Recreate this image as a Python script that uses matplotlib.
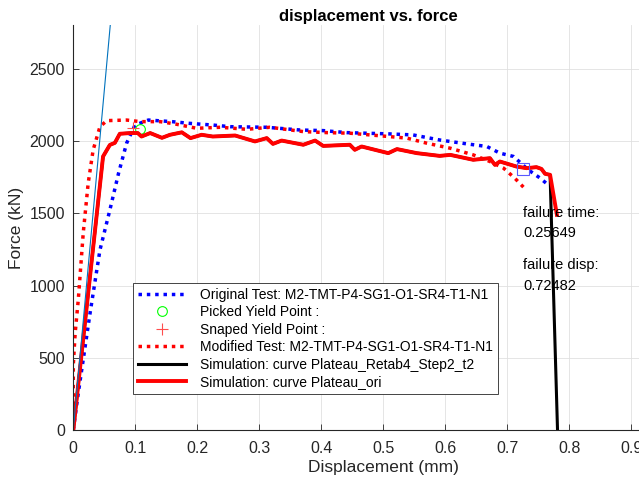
import numpy as np
import matplotlib
matplotlib.use('Agg')
import matplotlib.pyplot as plt

plt.rcParams['font.family'] = ['Liberation Sans', 'DejaVu Sans']

# Original test (blue dotted)
orig_disp = [0, 0.008, 0.027, 0.043, 0.059, 0.073, 0.086, 0.0995, 0.121, 0.159, 0.188,
             0.226, 0.253, 0.312, 0.366, 0.403, 0.441, 0.511, 0.548, 0.591, 0.635,
             0.667, 0.688, 0.710, 0.734, 0.753, 0.766]
orig_force = [0, 254, 808, 1246, 1523, 1777, 1985, 2110, 2145, 2134, 2122,
              2110, 2099, 2095, 2076, 2072, 2058, 2049, 2042, 2007, 1980,
              1962, 1916, 1893, 1800, 1743, 1696]

# Modified test (red dotted)
mod_disp = [0, 0, 0.003, 0.008, 0.016, 0.024, 0.032, 0.043, 0.054, 0.086, 0.108, 0.140,
            0.164, 0.199, 0.237, 0.280, 0.317, 0.371, 0.409, 0.446, 0.495, 0.538,
            0.570, 0.608, 0.645, 0.672, 0.694, 0.712, 0.726]
mod_force = [0, 450, 671, 900, 1362, 1708, 1938, 2099, 2141, 2145, 2134, 2134,
             2118, 2088, 2095, 2081, 2095, 2065, 2058, 2054, 2036, 2020,
             1985, 1950, 1904, 1858, 1812, 1743, 1681]

# Simulation curve Plateau_ori (red solid)
ori_disp = [0, 0.048, 0.059, 0.067, 0.075, 0.092, 0.104, 0.110, 0.124, 0.143, 0.156,
            0.175, 0.189, 0.207, 0.225, 0.261, 0.293, 0.312, 0.322, 0.336, 0.371,
            0.390, 0.403, 0.446, 0.454, 0.465, 0.508, 0.522, 0.554, 0.591, 0.608,
            0.645, 0.672, 0.680, 0.688, 0.715, 0.731, 0.747, 0.755, 0.761, 0.769, 0.780]
ori_force = [0, 1893, 1973, 1987, 2050, 2055, 2055, 2031, 2055, 2022, 2043,
             2060, 2020, 2043, 2031, 2038, 1997, 2020, 1980, 2003, 1974,
             2003, 1966, 1974, 1939, 1962, 1916, 1944, 1916, 1897, 1904,
             1870, 1881, 1835, 1858, 1823, 1812, 1819, 1807, 1773, 1766, 1489]

# Simulation curve Plateau_Retab4_Step2_t2 (black): same path, then fails to zero
retab_disp = ori_disp[:-1] + [0.781]
retab_force = ori_force[:-1] + [0]

# elastic slope line, picked/snapped yield points, failure marker
elastic_disp = [0, 0.065]
elastic_force = [0, 0.065 * 47000]
picked = (0.1075, 2082)
snapped = (0.097, 2088)
fail_pt = (0.725, 1805)
fail_time = 0.25649
fail_disp = 0.72482

fig = plt.figure(figsize=(6.39, 4.82), dpi=100)
W, H = 639, 482
ax = fig.add_axes([73.3 / W, 52 / H, 620 / W, 404.6 / H])

ax.plot(orig_disp, orig_force, color='blue', lw=2.5, linestyle=(0, (1, 1.4)),
        label='Original Test: M2-TMT-P4-SG1-O1-SR4-T1-N1')
ax.plot(*picked, 'o', color=(0, 1, 0), mfc='none', ms=7, mew=0.8,
        label='Picked Yield Point :')
ax.plot(*snapped, '+', color=(1, 0.3, 0.3), ms=8, mew=0.8,
        label='Snaped Yield Point :')
ax.plot(mod_disp, mod_force, color='red', lw=2.5, linestyle=(0, (1, 1.4)),
        label='Modified Test: M2-TMT-P4-SG1-O1-SR4-T1-N1')
ax.plot(retab_disp, retab_force, color='black', lw=2.2,
        label='Simulation: curve Plateau_Retab4_Step2_t2')
ax.plot(ori_disp, ori_force, color='red', lw=2.8,
        label='Simulation: curve Plateau_ori')
ax.plot(elastic_disp, elastic_force, color=(0, 0.447, 0.741), lw=0.8)
ax.plot(*fail_pt, 's', color=(0.35, 0.35, 1), mfc='none', ms=8, mew=0.8)

ax.text(0.726, 1504, 'failure time:', fontsize=10.5, va='center')
ax.text(0.726, 1362, '%.5f' % fail_time, fontsize=10.5, va='center')
ax.text(0.726, 1140, 'failure disp:', fontsize=10.5, va='center')
ax.text(0.726, 1000, '%.5f' % fail_disp, fontsize=10.5, va='center')

ax.set_xlim(0, 1)
ax.set_ylim(0, 2800)
xt = np.arange(0, 1.01, 0.1)
ax.set_xticks(xt)
ax.set_xticklabels(['%g' % round(v, 1) for v in xt])
ax.set_yticks(np.arange(0, 2501, 500))
ax.grid(True, color=(0.88, 0.88, 0.88), lw=0.6)
ax.set_axisbelow(True)
for s in ['top', 'right']:
    ax.spines[s].set_visible(False)
for s in ['left', 'bottom']:
    ax.spines[s].set_color((0.15, 0.15, 0.15))
    ax.spines[s].set_linewidth(0.8)
ax.tick_params(direction='in', length=4, width=0.6, colors=(0.15, 0.15, 0.15),
               labelsize=11.5, labelcolor=(0.15, 0.15, 0.15))
ax.tick_params(axis='x', pad=8)
ax.tick_params(axis='y', pad=6)

ax.set_xlabel('Displacement (mm)', fontsize=12.5, color=(0.15, 0.15, 0.15), labelpad=3)
ax.set_ylabel('Force (kN)', fontsize=12.5, color=(0.15, 0.15, 0.15), labelpad=4)
fig.text(368 / W, 1 - 17 / H, 'displacement vs. force', fontsize=12, fontweight='bold',
         ha='center', va='center')

leg = ax.legend(loc='upper left', bbox_to_anchor=(133 / W, 1 - 283 / H),
                bbox_transform=fig.transFigure, borderaxespad=0, fontsize=10,
                fancybox=False, framealpha=1, edgecolor=(0.15, 0.15, 0.15),
                handlelength=3.5, handletextpad=1.0, labelspacing=0.25,
                borderpad=0.35)
leg.get_frame().set_linewidth(0.6)

fig.savefig('out.png', dpi=100)
